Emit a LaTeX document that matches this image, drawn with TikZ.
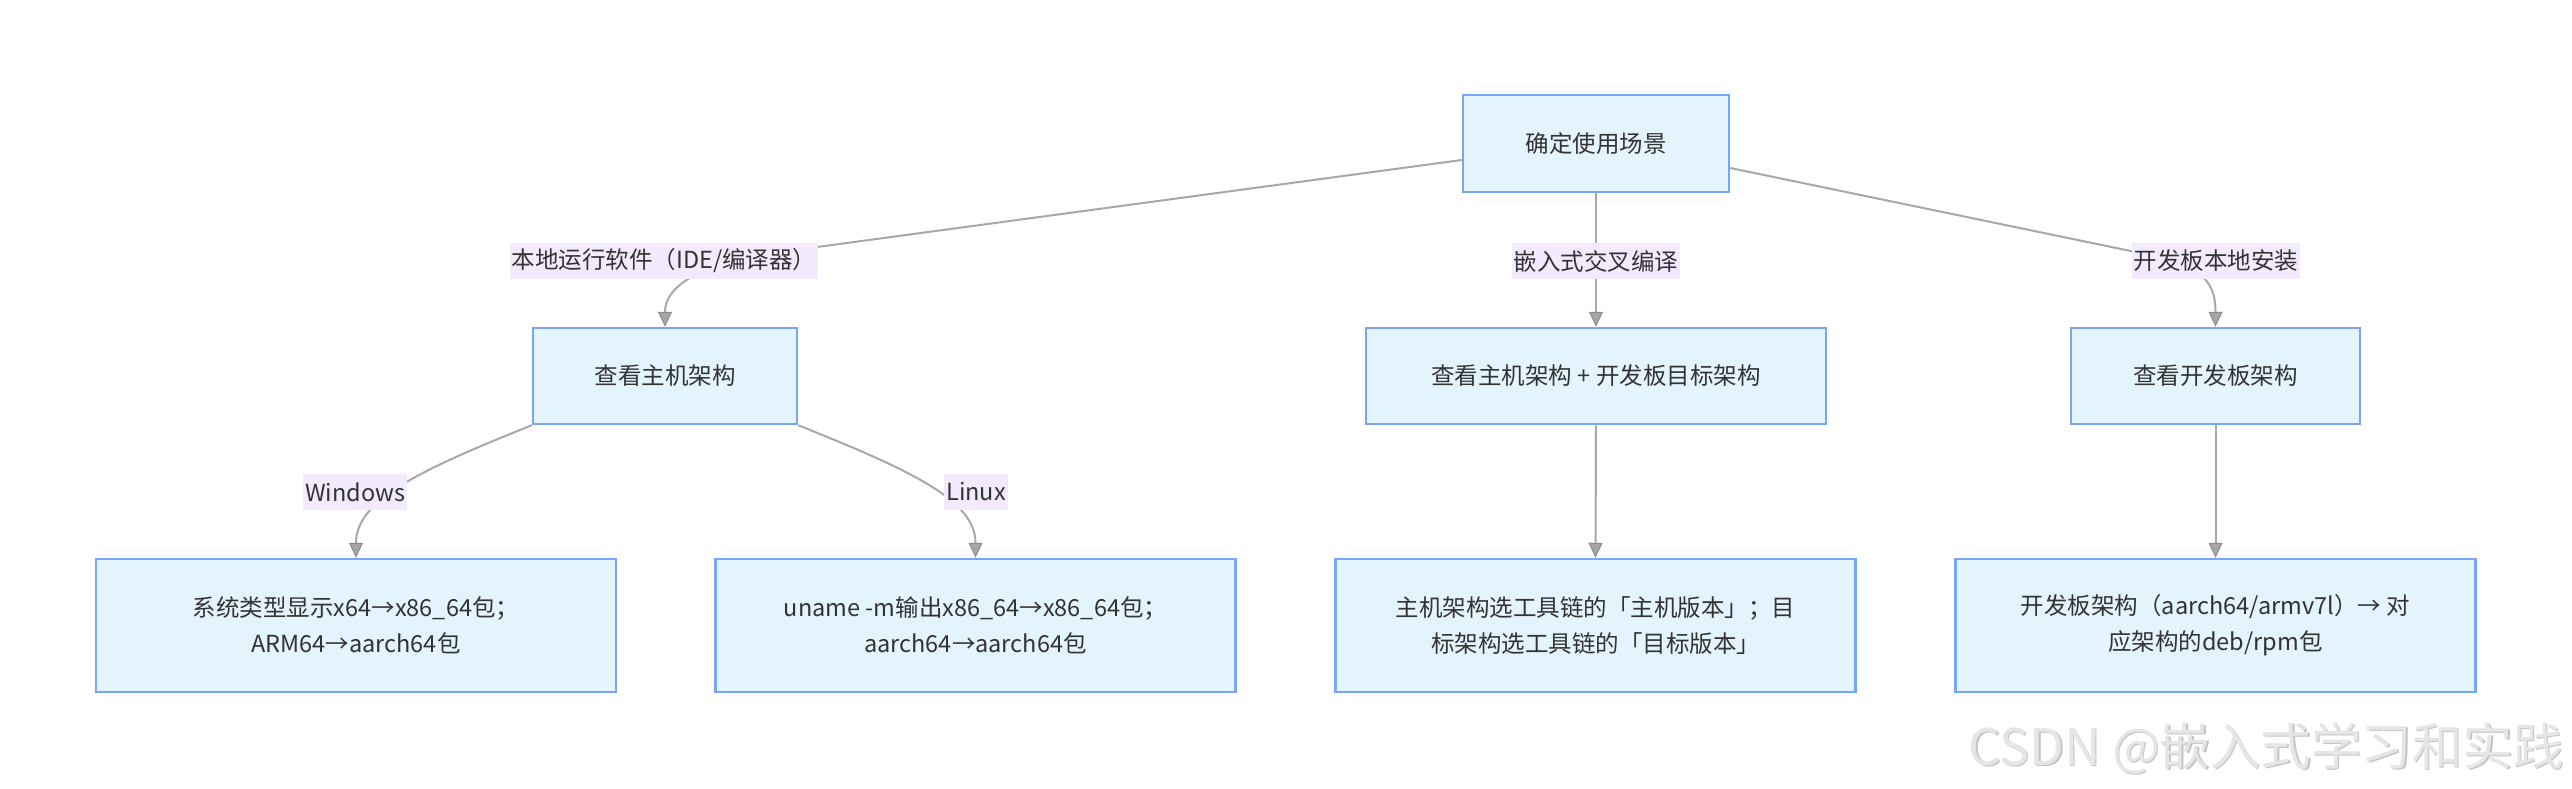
\documentclass[tikz,border=0pt]{standalone}
\usepackage{fontspec}
\setmainfont{Noto Sans CJK SC}
\usetikzlibrary{arrows.meta}
\definecolor{boxfill}{HTML}{E4F4FD}
\definecolor{boxline}{HTML}{78A6F5}
\definecolor{labfill}{HTML}{F3EBFD}
\definecolor{edgecol}{HTML}{A8A8A8}
\definecolor{tipfill}{HTML}{A6A6A6}
\definecolor{tipline}{HTML}{8C8C8C}
\definecolor{txt}{HTML}{333333}
\definecolor{wmark}{HTML}{E6E6E6}
\definecolor{wshadow}{HTML}{C4C4C4}
\begin{document}
\begin{tikzpicture}[x=1pt,y=-1pt,
  box/.style={draw=boxline,line width=2.5pt,fill=boxfill,text=txt,
    font=\fontsize{23.5}{36}\selectfont,align=center,inner sep=0pt},
  lab/.style={fill=labfill,text=txt,font=\fontsize{23.5}{28}\selectfont,
    minimum height=36pt,inner xsep=2pt,inner ysep=0pt},
  edge/.style={draw=edgecol,line width=2pt,
    -{Triangle[length=15pt,width=14pt,fill=tipfill,color=tipline,line width=1pt]}}]
\useasboundingbox (0,0) rectangle (2572,788);
\fill[white] (0,0) rectangle (2572,788);
% nodes
\node[box,minimum width=266pt,minimum height=97pt] (root) at (1596,143.5) {确定使用场景};
\node[box,minimum width=264pt,minimum height=96pt] (A) at (665,376) {查看主机架构};
\node[box,minimum width=460pt,minimum height=96pt] (B) at (1596,376) {查看主机架构 + 开发板目标架构};
\node[box,minimum width=289pt,minimum height=96pt] (C) at (2215.5,376) {查看开发板架构};
\node[box,minimum width=520pt,minimum height=133pt] (W) at (356,625.5) {系统类型显示x64→x86\_64包；\\ARM64→aarch64包};
\node[box,minimum width=520pt,minimum height=133pt] (L) at (975.5,625.5) {uname -m输出x86\_64→x86\_64包；\\aarch64→aarch64包};
\node[box,minimum width=520pt,minimum height=133pt] (T) at (1595.5,625.5) {主机架构选工具链的「主机版本」；目\\标架构选工具链的「目标版本」};
\node[box,minimum width=520pt,minimum height=133pt] (D) at (2215.5,625.5) {开发板架构（aarch64/armv7l）→ 对\\应架构的deb/rpm包};
% edges
\draw[edge] ([yshift=-16.5pt]root.west) -- (780,252) .. controls (690,265) and (665,290) .. (A.north);
\draw[edge] (root.south) -- (B.north);
\draw[edge] ([yshift=-24.5pt]root.east) -- (2150,255) .. controls (2205,266) and (2215.5,285) .. (C.north);
\draw[edge] (A.south west) .. controls (420,470) and (356,500) .. (W.north);
\draw[edge] (A.south east) .. controls (910,470) and (975.5,500) .. (L.north);
\draw[edge] (B.south) -- (T.north);
\draw[edge] (C.south) -- (D.north);
% edge labels
\node[lab] (l1) at (664,261) {本地运行软件（IDE/编译器）};
\node[lab] (l2) at (1596,261) {嵌入式交叉编译};
\node[lab] (l3) at (2216,261) {开发板本地安装};
\node[lab] (lw) at (355,492) {Windows};
\node[lab] (ll) at (976,492) {Linux};
% watermark
\node[anchor=east,text=wshadow,font=\fontsize{50.5}{52}\selectfont,inner sep=0pt] (wms) at (2565.5,749.5) {CSDN @嵌入式学习和实践};
\node[anchor=east,text=wmark,font=\fontsize{50.5}{52}\selectfont,inner sep=0pt] (wm) at (2564,748) {CSDN @嵌入式学习和实践};
\end{tikzpicture}
\end{document}
